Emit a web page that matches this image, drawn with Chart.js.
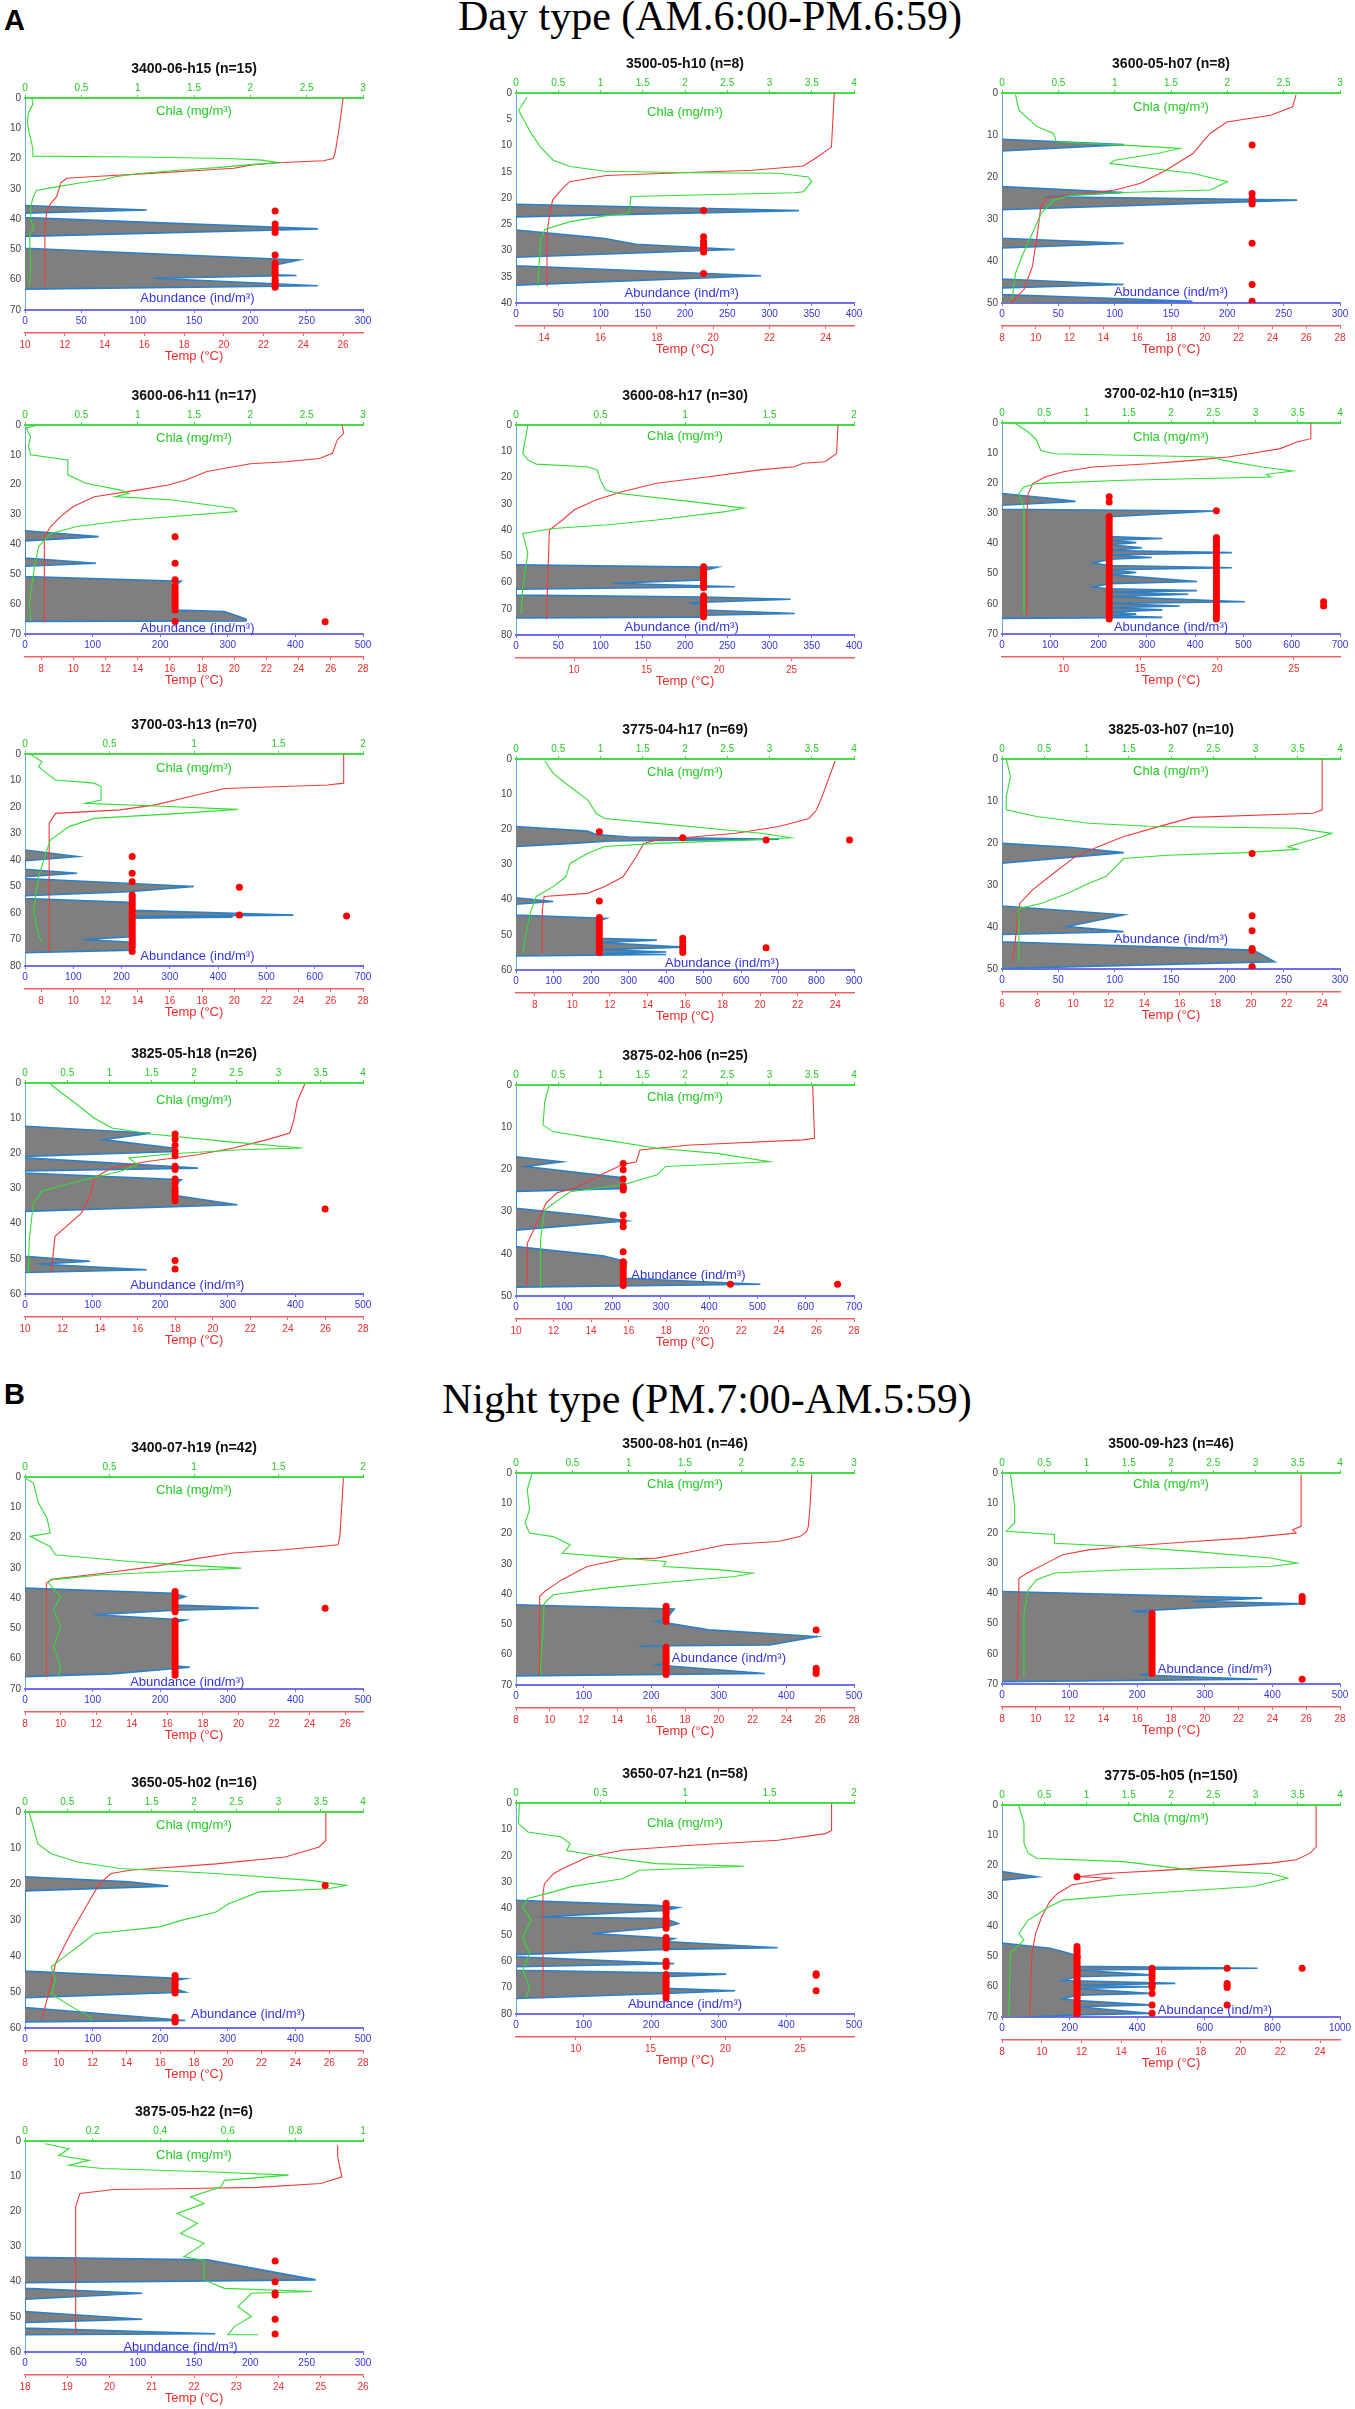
<!DOCTYPE html>
<html>
<head>
<meta charset="utf-8">
<script src="https://cdn.jsdelivr.net/npm/chart.js@4.4.1/dist/chart.umd.min.js"></script>
<style>
  body { margin: 0; background: #fff; }
  #page { position: relative; width: 1355px; height: 2409px; overflow: hidden; background: #fff; }
  .big { position: absolute; font-family: "Liberation Serif", "Times New Roman", serif; font-size: 42px; line-height: 42px; color: #000; white-space: nowrap; }
  .letter { position: absolute; font-family: "Liberation Sans", Arial, sans-serif; font-weight: bold; font-size: 29px; line-height: 29px; color: #000; }
  canvas { position: absolute; }
</style>
</head>
<body>
<div id="page">
  <div class="letter" style="left:4px; top:6px;">A</div>
  <div class="big" style="left:458px; top:-5px;">Day type (AM.6:00-PM.6:59)</div>
  <div class="letter" style="left:4px; top:1380px;">B</div>
  <div class="big" style="left:442px; top:1378px;">Night type (PM.7:00-AM.5:59)</div>
</div>
<script>
// temp / chla profiles: [depth (m), value]
// abundance profiles: [abundance, depth (m)]
// dots: [depth (m), abundance]
// ---- Day type ----
const p1Temp = [[0,26.0],[10,25.8],[18,25.6],[20,25.5],[20.7,25.0],[21.3,23.0],[22,21.5],[23.2,20.5],[24,18.5],[24.9,16.3],[26,13.3],[26.5,12.1],[28,11.8],[32.5,11.6],[34.8,11.3],[37,11.1],[43.6,11.0],[62,11.0]];
const p1Chla = [[0,0.06],[2,0.07],[5,0.03],[8,0.02],[12,0.04],[15,0.06],[17,0.07],[19.2,0.07],[19.5,1.0],[20,1.8],[20.5,2.1],[21.3,2.25],[22,2.0],[23,1.7],[24,1.3],[25,1.0],[26,0.8],[27,0.7],[28,0.5],[29.5,0.25],[30.5,0.1],[33,0.07],[36,0.05],[40,0.05],[43,0.08],[45,0.04],[55,0.05],[62,0.04]];
const p1Abund = [[0,35.5],[108,37],[0,38],[0,39.5],[260,43.2],[0,45.7],[0,49.6],[243,53.5],[222,55.1],[222,58.4],[241,58.6],[114,59.5],[260,62],[0,63.1]];
const p1Dots = [[37.3,222],[41.6,222],[43.2,222],[44.4,222],[51.8,222],[54.5,222],[55.5,222],[56.5,222],[57.5,222],[58.4,222],[59.8,222],[60.6,222],[61.3,222],[62.5,222]];

const p2Temp = [[0,24.3],[10.3,24.2],[12.2,23.7],[13.9,23.2],[14.7,21.4],[15.2,18.9],[15.7,16.2],[16.9,14.9],[18.5,14.6],[20.4,14.3],[22.9,14.2],[26.7,14.1],[36.8,14.1]];
const p2Chla = [[0.8,0.13],[3.3,0.03],[7.7,0.18],[10.3,0.29],[12.8,0.44],[14,0.64],[14.9,1.05],[15.2,2.08],[15.3,3.1],[16,3.46],[16.9,3.5],[18.8,3.4],[19,3.3],[19.7,1.36],[22.9,1.34],[23.4,1.05],[24.5,0.64],[26,0.34],[28,0.29],[36.8,0.26]];
const p2Abund = [[0,21.2],[335,22.4],[0,23.6],[0,26.1],[85,27.4],[105,27.7],[142,28.8],[259,29.8],[0,31.3],[0,32.9],[290,34.8],[0,36.6]];
const p2Dots = [[22.4,222],[27.4,222],[28.3,222],[28.8,222],[29.3,222],[29.8,222],[30.3,222],[34.4,222]];

const p3Temp = [[0.4,25.4],[3.3,25.2],[5.3,23.9],[6.9,21.3],[9.7,20.3],[12,19.8],[14.4,19.3],[18.4,17.7],[21.5,16.2],[23.1,14.7],[24.3,12.1],[25,10.6],[27,10.3],[33.4,10.1],[41.3,9.8],[46.8,9.3],[50,8.5]];
const p3Chla = [[0.4,0.12],[4.1,0.15],[8,0.31],[9.7,0.46],[11.6,0.48],[12.4,1.08],[13.2,1.58],[14.4,1.38],[16,1.0],[16.8,0.96],[19.1,1.69],[21.1,2.0],[23.1,1.85],[23.7,1.08],[24.3,0.62],[25.5,0.46],[28.6,0.35],[33.4,0.27],[38.1,0.19],[42.9,0.12],[49.2,0.09]];
const p3Abund = [[0,11],[108,12.3],[0,13.8],[0,22.3],[108,23.7],[38,24.7],[262,25.5],[0,27.8],[0,34.6],[108,35.8],[0,36.9],[0,44.3],[108,45.6],[0,46.4],[0,48],[169,49.6],[0,50.2]];
const p3Dots = [[12.4,222],[23.9,222],[25.1,222],[25.9,222],[26.4,222],[35.8,222],[45.6,222],[49.6,222]];

const p4Temp = [[0,26.7],[2.8,26.8],[5,26.4],[9.5,26.1],[11.2,25.3],[12.3,23.2],[13,21],[15.6,18.3],[18.4,17],[20.1,15.9],[21.8,14],[24,11.3],[27.3,10],[30.7,9.2],[34,8.6],[37.4,8.2],[66,8.2]];
const p4Chla = [[0,0.12],[1,0.01],[4,0.05],[7,0.03],[10,0.05],[11.7,0.38],[16.7,0.38],[19.5,0.54],[21.8,0.85],[22.9,0.92],[24,0.8],[25.1,1.31],[27.9,1.85],[29,1.88],[31.8,0.92],[34,0.46],[36.3,0.23],[40.7,0.12],[48.5,0.08],[59.7,0.04],[65.5,0.05]];
const p4Abund = [[0,35.4],[109,37.4],[0,38.8],[0,44.6],[105,46.3],[0,47.3],[0,50.8],[231,52.3],[224,53.5],[224,62],[295,62.5],[327,65],[327,65.6],[0,65.8]];
const p4Dots = [[37.4,222],[46.3,222],[51.8,222],[54,222],[55,222],[56,222],[57,222],[58,222],[59,222],[60,222],[61,222],[62,222],[65.8,222],[65.9,444]];

const p5Temp = [[0,28.2],[10.8,28.1],[14,27.3],[14.6,25.8],[15.9,25.2],[17.1,22.8],[19.7,19.3],[22.2,15.7],[25.4,13.3],[28.6,11.5],[32.4,10],[36.2,9.2],[40,8.3],[74,8.1]];
const p5Chla = [[0,0.07],[10.8,0.04],[13.3,0.07],[14.9,0.12],[15.9,0.42],[17.1,0.48],[21,0.5],[24.8,0.53],[26,0.6],[29.2,1.04],[31.7,1.35],[33,1.24],[36.2,0.83],[38.1,0.53],[39.4,0.22],[41.3,0.04],[48.9,0.07],[61.6,0.04],[72,0.03]];
const p5Abund = [[0,53.3],[238,54.2],[222,55.5],[222,59],[115,60.3],[259,61.6],[0,62.6],[0,64.8],[222,65.5],[325,66.4],[205,67.7],[222,68.5],[222,70.5],[330,71.8],[222,72.5],[222,73.2],[0,73.5]];
const p5Dots = [[54,222],[55,222],[56,222],[57,222],[58,222],[59,222],[60,222],[61,222],[62,222],[65,222],[66,222],[67,222],[68,222],[69,222],[70,222],[71,222],[72,222],[73,222]];

const p6Temp = [[0,26.1],[5.2,26.1],[6.3,25.2],[8.5,24.1],[10.2,22.1],[11.3,20.7],[12.4,18.4],[13.5,15.6],[14.6,11.9],[16.2,10],[17.9,8.8],[20.1,8],[23.4,7.7],[32.2,7.6],[64,7.6]];
const p6Chla = [[0,0.15],[3,0.31],[5.7,0.41],[9.1,0.46],[10.2,0.62],[10.7,1.44],[11.3,2.51],[12.4,2.62],[14.6,3.08],[15.9,3.44],[17,3.13],[17.9,3.18],[19,1.44],[20.1,0.41],[21.2,0.26],[23.4,0.2],[27.8,0.26],[43.3,0.26],[63.1,0.26]];
const p6Abund = [[0,23.4],[99,25],[152,26],[0,27.3],[0,28.6],[440,29.2],[224,31.1],[222,37.7],[332,38.3],[222,38.9],[278,39.7],[222,40.4],[290,41.4],[222,42.3],[476,43],[222,43.8],[310,44.6],[222,45.2],[188,46.5],[222,47.3],[476,48],[222,48.7],[278,49.6],[222,50.3],[404,52.6],[222,53.3],[188,54.5],[222,55],[404,55.6],[222,56.2],[386,56.8],[222,57.6],[503,59.3],[222,59.9],[368,60.7],[222,61.3],[332,62],[222,62.7],[278,63.4],[222,63.9],[332,64.5],[0,64.8]];
const p6Dots = [[24.5,222],[26.2,222],[31,222],[32,222],[33,222],[34,222],[35,222],[36,222],[37,222],[38,222],[39,222],[40,222],[41,222],[42,222],[43,222],[44,222],[45,222],[46,222],[47,222],[48,222],[49,222],[50,222],[51,222],[52,222],[53,222],[54,222],[55,222],[56,222],[57,222],[58,222],[59,222],[60,222],[61,222],[62,222],[63,222],[64,222],[65,222],
  [29.1,444],[38,444],[39,444],[40,444],[41,444],[42,444],[43,444],[44,444],[45,444],[46,444],[47,444],[48,444],[49,444],[50,444],[51,444],[52,444],[53,444],[54,444],[55,444],[56,444],[57,444],[58,444],[59,444],[60,444],[61,444],[62,444],[63,444],[64,444],[65,444],[59.3,666],[60.7,666]];

const p7Temp = [[0,26.8],[11,26.8],[11.7,25.8],[13,19.4],[16.1,17.2],[19.2,15.1],[21.1,12.9],[22.4,8.9],[26.2,8.5],[74.6,8.5]];
const p7Chla = [[0,0.03],[2.9,0.1],[4.8,0.08],[7.3,0.13],[9.8,0.18],[11,0.41],[12.3,0.45],[17.4,0.45],[18.6,0.36],[19.6,0.77],[20.9,1.26],[22.4,0.92],[24.3,0.41],[27.4,0.26],[32.5,0.15],[36.2,0.13],[46.3,0.08],[58.9,0.05],[68.3,0.08],[70.8,0.1]];
const p7Abund = [[0,36.2],[108,38.7],[0,40.3],[0,43.5],[108,45],[0,46.3],[0,47],[350,50],[215,52],[0,53.5],[0,54.5],[215,56],[222,59],[556,60.8],[222,61.3],[430,61.6],[222,62],[222,69],[120,70],[222,71],[222,74],[0,75]];
const p7Dots = [[38.7,222],[45,222],[48.2,222],[53.2,222],[54,222],[55,222],[56,222],[57,222],[58,222],[59,222],[60,222],[61,222],[62,222],[63,222],[64,222],[65,222],[66,222],[67,222],[68,222],[69,222],[70,222],[71,222],[72,222],[73,222],[74.5,222],[50.3,444],[60.8,444],[61.1,666]];

const p8Temp = [[0.5,24],[10.7,23.3],[14.5,23],[16.9,22.6],[19.2,21],[21.1,18.7],[22.4,15.9],[23,14.5],[24,13.8],[27.8,13.4],[33.5,12.7],[36.3,11.7],[38.2,10.8],[39.1,8.5],[42.9,8.4],[55.4,8.4]];
const p8Chla = [[0.5,0.34],[4.1,0.44],[7.9,0.64],[11.7,0.85],[15.5,0.95],[16.9,1.05],[18.3,1.67],[20.2,2.49],[21.1,2.9],[22.4,3.25],[23,2.79],[24,1.67],[24.9,1.05],[26.8,0.85],[29.7,0.64],[33.5,0.59],[36.3,0.44],[39.1,0.24],[42.9,0.18],[48.2,0.13],[55.3,0.08]];
const p8Abund = [[0,19.2],[190,20.5],[214,21.5],[300,22.2],[700,22.8],[250,23.3],[150,24],[0,24.9],[0,39.5],[99,40.5],[0,41.3],[0,44.4],[240,45.3],[222,46],[222,51],[375,51.5],[222,52.2],[445,53.5],[222,54.2],[400,54.9],[222,55.3],[400,55.6],[0,56]];
const p8Dots = [[20.7,222],[40.4,222],[45.1,222],[46,222],[47,222],[48,222],[49,222],[50,222],[51,222],[52,222],[53,222],[54,222],[55,222],[22.4,444],[51,444],[52,444],[53,444],[54,444],[55,444],[23,666],[53.7,666],[23,888]];

const p9Temp = [[0,24],[12.1,24],[12.9,23.5],[13.9,16.7],[16.1,14.8],[18.5,12.8],[20.9,11.4],[23.3,10.1],[27.2,8.9],[31.2,7.7],[34.4,7],[48.3,6.6]];
const p9Chla = [[0,0.05],[4.2,0.1],[9,0.05],[12.1,0.05],[13.7,0.41],[15.3,1.03],[16,1.74],[16.5,3.49],[17.7,3.9],[18.5,3.79],[20.9,3.38],[21.5,3.49],[22.3,2.87],[22.9,1.95],[23.7,1.44],[28,1.23],[29.6,1.03],[32,0.77],[34.4,0.46],[35.6,0.2],[48.3,0.2]];
const p9Abund = [[0,20.1],[60,21],[108,22.3],[0,24.8],[0,35],[108,37.1],[58,39.9],[108,41.1],[0,41.8],[0,43.5],[223,45.5],[242,48.3],[0,49.9]];
const p9Dots = [[22.5,222],[37.3,222],[40.9,222],[45.1,222],[45.6,222],[49.4,222],[49.8,222]];

const p10Temp = [[0.3,24.9],[5.2,24.5],[10.9,24.3],[14.2,24.1],[16.1,22.9],[18.5,21.1],[20.4,19.2],[22.3,16.5],[24.2,14.6],[27,13.7],[31.8,13.5],[37,13],[43.6,11.6],[53.6,11.4]];
const p10Chla = [[0.3,0.3],[2.4,0.41],[6.2,0.62],[10,0.82],[12.8,1.03],[14.5,1.49],[16.6,2.36],[18.5,3.28],[19,2.56],[20.1,1.74],[21.3,1.23],[23.2,1.33],[25.1,1.13],[28,0.62],[30.8,0.2],[34.1,0.1],[44.5,0.05],[53.9,0.04]];
const p10Abund = [[0,12.3],[186,14.3],[115,16.1],[218,18.5],[222,19.5],[0,20.9],[0,21.3],[256,24.2],[0,25],[0,25.6],[231,27.5],[222,29],[222,32],[314,34.6],[0,36.5],[0,49.3],[96,50.7],[20,51.5],[180,53.1],[0,53.9]];
const p10Dots = [[14.5,222],[16,222],[17.7,222],[19.4,222],[20.7,222],[23.7,222],[24.6,222],[27.3,222],[28.5,222],[29.9,222],[30.8,222],[31.6,222],[32.4,222],[33.5,222],[50.5,222],[52.9,222],[35.8,444]];

const p11Temp = [[0.2,25.8],[12.6,25.9],[13,25.3],[14.2,19.3],[15.4,16.6],[18.2,16.4],[18.8,15.7],[20.9,14.7],[22.9,13.8],[24.5,13.1],[25.5,12.2],[28,11.6],[32.8,11.1],[37.5,10.6],[47.8,10.6]];
const p11Chla = [[0.2,0.39],[4,0.34],[9.5,0.32],[11.1,0.44],[13,1.05],[15,1.67],[16.2,2.38],[18.2,3.0],[19.3,1.77],[21.3,1.67],[23.7,1.26],[25.3,0.64],[29.6,0.34],[36.7,0.29],[47.8,0.29]];
const p11Abund = [[0,17],[95,18.2],[20,19.3],[222,22],[229,24.5],[0,25.2],[0,29.2],[150,31],[229,32.2],[0,34.4],[0,38.3],[180,40.5],[229,41.9],[222,45.8],[506,47.2],[0,47.9]];
const p11Dots = [[18.6,222],[20.1,222],[22.3,222],[24.1,222],[24.9,222],[30.8,222],[32.4,222],[33.6,222],[39.5,222],[41.9,222],[42.6,222],[43.3,222],[44,222],[44.7,222],[45.4,222],[46.1,222],[46.8,222],[47.5,222],[47.2,444],[47.2,666]];

// ---- Night type ----
const n1Temp = [[0.3,25.9],[19.6,25.7],[22.4,25.6],[24,22.6],[25.1,19.7],[26.8,17.8],[29.5,15.3],[31.8,12.4],[33.8,9.5],[35.1,9.2],[66,9.2]];
const n1Chla = [[0.3,0.0],[2,0.05],[8.6,0.08],[13.6,0.13],[18.5,0.15],[19.6,0.03],[23,0.15],[25.7,0.18],[27.9,0.62],[29,0.92],[30.1,1.28],[31.2,0.87],[32.3,0.46],[33.4,0.26],[34,0.15],[35,0.14],[39.5,0.21],[43.9,0.17],[49.4,0.21],[56,0.17],[62.6,0.21],[65.9,0.2]];
const n1Abund = [[0,36.7],[218,38.4],[237,39.5],[222,40.6],[225,42.3],[346,43.3],[222,44],[103,45.5],[237,47.2],[222,48],[222,62.3],[244,62.8],[128,65],[0,65.9]];
const n1Dots = [[37.8,222],[38.6,222],[39.5,222],[40.5,222],[41.5,222],[42.5,222],[43.5,222],[44.5,222],[47.5,222],[48.5,222],[49.5,222],[50.5,222],[51.5,222],[52.5,222],[53.5,222],[54.5,222],[55.5,222],[56.5,222],[57.5,222],[58.5,222],[59.5,222],[60.5,222],[61.5,222],[62.5,222],[63.5,222],[64.5,222],[65.5,222],[43.3,444]];

const n2Temp = [[0.5,25.5],[11,25.4],[17.6,25.3],[19.3,25.2],[21,24.8],[22.6,23.5],[23.7,20.4],[26.5,17.9],[28.1,16.3],[28.4,14.3],[30.9,12.2],[35.3,10.7],[39.1,9.7],[40.8,9.4],[66.7,9.4]];
const n2Chla = [[0.5,0.14],[5.5,0.1],[12.1,0.12],[16.5,0.08],[19.8,0.12],[21,0.33],[23.7,0.48],[26.5,0.41],[27.6,0.79],[29.2,1.33],[30.9,1.31],[31.9,1.79],[33.1,2.1],[34.2,1.94],[36.4,1.25],[38,0.79],[40.2,0.33],[43,0.25],[51.8,0.24],[62.8,0.22],[66.7,0.22]];
const n2Abund = [[0,43.5],[234,44.9],[221,48.5],[208,49],[285,51.8],[445,54],[375,56.8],[183,57.1],[221,57.3],[221,62.8],[208,63.4],[368,66.2],[0,67]];
const n2Dots = [[44,222],[45,222],[46,222],[47,222],[48,222],[49,222],[57.5,222],[58.5,222],[59.5,222],[60.5,222],[61.5,222],[62.5,222],[63.5,222],[64.5,222],[65.5,222],[66.5,222],[51.8,444],[64.5,444],[65.3,444],[66.2,444]];

const n3Temp = [[0.5,25.7],[17.7,25.7],[18.8,25.2],[19.9,25.4],[21.6,22.4],[22.7,19.3],[24.4,15.2],[25.5,13.1],[27.1,11.6],[29.4,10.8],[33.2,9.5],[34.9,9],[68.7,8.9]];
const n3Chla = [[0.5,0.1],[11,0.15],[16.5,0.15],[19.3,0.05],[20.4,0.62],[23.3,0.62],[24.4,1.44],[26,2.26],[28.2,3.18],[29.9,3.49],[31,3.18],[32.1,1.44],[33.2,0.62],[35.4,0.41],[38.8,0.31],[46.5,0.26],[67.6,0.26]];
const n3Abund = [[0,39.3],[385,41.5],[282,42.6],[449,43.4],[282,44.8],[192,45.9],[224,46.3],[224,66.4],[205,67],[378,68.4],[0,69.2]];
const n3Dots = [[46.5,222],[47.5,222],[48.5,222],[49.5,222],[50.5,222],[51.5,222],[52.5,222],[53.5,222],[54.5,222],[55.5,222],[56.5,222],[57.5,222],[58.5,222],[59.5,222],[60.5,222],[61.5,222],[62.5,222],[63.5,222],[64.5,222],[65.5,222],[66.5,222],[41,444],[41.8,444],[42.6,444],[68.4,444]];

const n4Temp = [[0.3,25.8],[2.3,25.8],[7.9,25.8],[9.7,25.4],[12.5,23.4],[14.4,19.3],[16.2,14.2],[17.1,13.1],[19.9,12.4],[26.4,11.6],[32.9,10.8],[37.5,10.3],[42.1,9.8],[48.6,9.5],[57.4,9]];
const n4Chla = [[0.3,0.05],[4.2,0.1],[8.8,0.15],[11.6,0.31],[13.9,0.62],[15.7,1.13],[17.1,2.26],[19,3.38],[20.4,3.8],[21.3,3.59],[22.2,2.77],[25.5,2.41],[27.8,2.26],[30.1,1.85],[31.9,1.59],[33.8,0.82],[36.6,0.67],[40.3,0.46],[43,0.31],[46.8,0.36],[50.5,0.31],[54.2,0.56],[56.9,0.77],[57.9,0.79]];
const n4Abund = [[0,18],[154,19.4],[212,20.6],[0,21.9],[0,44.2],[237,46.3],[222,46.8],[222,49.1],[237,50],[0,51.6],[0,54.3],[237,57.9],[0,58.3]];
const n4Dots = [[45.4,222],[46.1,222],[46.8,222],[47.5,222],[48.2,222],[48.9,222],[49.6,222],[50.3,222],[57,222],[57.7,222],[58.3,222],[20.4,444]];

const n5Temp = [[0.3,27.1],[10.4,27.1],[11.6,26.7],[14.1,23.5],[16,17.7],[17.9,13.1],[20.5,10.8],[24.9,9.1],[26.8,8.5],[30.6,7.9],[34.3,7.8],[74.1,7.8]];
const n5Chla = [[0.3,0.02],[7.8,0.015],[11,0.07],[12.9,0.27],[15.4,0.32],[18,0.3],[20.5,0.53],[23,0.83],[24,1.35],[25.5,0.73],[28.7,0.63],[31.8,0.32],[33.7,0.22],[36.2,0.07],[39.4,0.04],[44.4,0.09],[50.8,0.04],[57.1,0.08],[63.4,0.04],[69.7,0.08],[74.1,0.06]];
const n5Abund = [[0,36.9],[208,38.8],[240,39.6],[221,40.7],[36,43.2],[221,43.8],[240,45.7],[221,47],[113,49.5],[234,51.4],[221,52.5],[387,54.9],[221,55.5],[0,57.5],[0,58.3],[234,60.9],[0,62.1],[0,63.4],[221,64.4],[311,64.9],[221,65.9],[221,70.3],[324,71.2],[221,72.2],[0,74.1]];
const n5Dots = [[38,222],[39,222],[40,222],[41,222],[42,222],[43.5,222],[44.5,222],[45.5,222],[46.5,222],[47.5,222],[51,222],[52,222],[53,222],[54,222],[55,222],[60,222],[61,222],[62,222],[65,222],[66,222],[67,222],[68,222],[69,222],[70,222],[71,222],[72,222],[73,222],[74,222],[64.7,444],[65.3,444],[71.2,444]];

const n6Temp = [[0.3,23.8],[13.8,23.8],[15.9,23.5],[18.1,22.8],[19.2,21.5],[21.5,16.3],[22.6,13.2],[23.7,11.9],[24.2,13.5],[26.4,11.5],[29.2,10.8],[31.9,10.4],[36.9,10],[42.3,9.7],[48.9,9.5],[69.9,9.4]];
const n6Chla = [[0.3,0.2],[6,0.26],[12.6,0.26],[15.9,0.31],[17.6,0.41],[18.7,1.44],[21.5,2.26],[22.6,3.18],[24.2,3.38],[26.9,2.97],[29.7,1.44],[31.4,0.72],[33.6,0.56],[38,0.31],[42.4,0.2],[44.6,0.26],[48.9,0.1],[69.9,0.08]];
const n6Abund = [[0,22],[103,23.7],[0,24.8],[0,45.6],[141,47.3],[179,48.4],[231,50],[222,53.3],[756,53.9],[222,54.5],[436,56.1],[222,56.7],[178,58],[513,58.9],[222,59.5],[436,60],[222,60.6],[436,62.2],[222,62.8],[180,64],[222,64.6],[436,66],[222,66.6],[436,68.8],[222,69.3],[0,70.4]];
const n6Dots = [[23.7,222],[46.7,222],[47.5,222],[48.3,222],[49.1,222],[49.9,222],[50.7,222],[51.5,222],[52.3,222],[53.1,222],[53.9,222],[54.7,222],[55.5,222],[56.3,222],[57.1,222],[57.9,222],[58.7,222],[59.5,222],[60.3,222],[61.1,222],[61.9,222],[62.7,222],[63.5,222],[64.3,222],[65.1,222],[65.9,222],[66.7,222],[67.5,222],[68.3,222],[69.1,222],[69.9,222],
  [53.9,444],[55,444],[56.1,444],[57.2,444],[58.9,444],[59.6,444],[60.3,444],[62.2,444],[66,444],[68.8,444],[53.9,666],[58.9,666],[59.6,666],[60.3,666],[66,666],[53.9,888]];

const n7Temp = [[1.2,25.4],[4.5,25.4],[10.2,25.5],[12.1,25],[13.2,23.5],[13.5,21.9],[13.8,20.1],[14.9,19.3],[18.7,19.2],[54.6,19.2]];
const n7Chla = [[0.8,0.06],[2.2,0.13],[4.1,0.1],[5.5,0.19],[6.9,0.13],[7.8,0.23],[8.8,0.56],[9.7,0.78],[11.2,0.59],[13,0.58],[15.9,0.49],[17.8,0.53],[20.6,0.45],[23.4,0.51],[26.3,0.46],[29.1,0.53],[32.9,0.47],[34,0.53],[39.5,0.53],[41.9,0.59],[42.8,0.85],[43.3,0.67],[47.1,0.63],[49.9,0.67],[52.7,0.62],[55.1,0.6],[55.1,0.69]];
const n7Abund = [[0,33.1],[162,33.8],[258,39.5],[0,40.3],[0,41.9],[104,43.3],[0,45],[0,48.5],[104,50.7],[0,51.6],[0,53.2],[169,54.8],[0,55.1]];
const n7Dots = [[34.1,222],[40,222],[43.2,222],[43.8,222],[50.7,222],[54.9,222]];

// panel titles and axis ranges
const titles = ["3400-06-h15 (n=15)","3500-05-h10 (n=8)","3600-05-h07 (n=8)","3600-06-h11 (n=17)","3600-08-h17 (n=30)","3700-02-h10 (n=315)",
  "3700-03-h13 (n=70)","3775-04-h17 (n=69)","3825-03-h07 (n=10)","3825-05-h18 (n=26)","3875-02-h06 (n=25)",
  "3400-07-h19 (n=42)","3500-08-h01 (n=46)","3500-09-h23 (n=46)","3650-05-h02 (n=16)","3650-07-h21 (n=58)","3775-05-h05 (n=150)","3875-05-h22 (n=6)"];
const depthMax = [70,40,50,70,80,70,80,60,50,60,50,70,70,70,60,80,70,60];
const depthStep = [10,5,10,10,10,10,10,10,10,10,10,10,10,10,10,10,10,10];
const chlaMax = [3,4,3,3,2,4,2,4,4,4,4,2,3,4,4,2,4,1];
const chlaStep = [0.5,0.5,0.5,0.5,0.5,0.5,0.5,0.5,0.5,0.5,0.5,0.5,0.5,0.5,0.5,0.5,0.5,0.2];
const abundMax = [300,400,300,500,400,700,700,900,300,500,700,500,500,500,500,500,1000,300];
const abundStep = [50,50,50,100,50,100,100,100,50,100,100,100,100,100,100,100,200,50];
const tempMin = [10,13,8,7,6,6,7,7,6,10,10,8,8,8,8,6,8,18];
const tempMax = [27,25,28,28,29.3,28,28,25,25,28,28,27,28,28,28,28.6,25,26];
const tempStep = [2,2,2,2,5,5,2,2,2,2,2,2,2,2,2,5,2,1];

const temps = [p1Temp,p2Temp,p3Temp,p4Temp,p5Temp,p6Temp,p7Temp,p8Temp,p9Temp,p10Temp,p11Temp,n1Temp,n2Temp,n3Temp,n4Temp,n5Temp,n6Temp,n7Temp];
const chlas = [p1Chla,p2Chla,p3Chla,p4Chla,p5Chla,p6Chla,p7Chla,p8Chla,p9Chla,p10Chla,p11Chla,n1Chla,n2Chla,n3Chla,n4Chla,n5Chla,n6Chla,n7Chla];
const abunds = [p1Abund,p2Abund,p3Abund,p4Abund,p5Abund,p6Abund,p7Abund,p8Abund,p9Abund,p10Abund,p11Abund,n1Abund,n2Abund,n3Abund,n4Abund,n5Abund,n6Abund,n7Abund];
const dots = [p1Dots,p2Dots,p3Dots,p4Dots,p5Dots,p6Dots,p7Dots,p8Dots,p9Dots,p10Dots,p11Dots,n1Dots,n2Dots,n3Dots,n4Dots,n5Dots,n6Dots,n7Dots];

// placement: plot-area left x, top y, bottom y (px), and label offsets
const plotLeft = [25,516,1002,25,516,1002,25,516,1002,25,516,25,516,1002,25,516,1002,25];
const plotTop = [98,93,93,425,425,423,754,759,759,1083,1085,1477,1473,1473,1812,1803,1805,2141];
const plotBottom = [310,303,303,634,635,634,966,970,969,1294,1296,1689,1685,1684,2028,2014,2017,2352];
const chlaLabelY = [13,19,14,13,11,14,14,13,12,17,12,13,11,11,13,20,13,14];
const abLabelX = [0.51,0.49,0.5,0.51,0.49,0.5,0.51,0.61,0.5,0.48,0.51,0.48,0.63,0.63,0.66,0.5,0.63,0.46];
const abLabelY = [-12,-10,-11,-6,-8,-7,-10,-7,-30,-9,-21,-7,-27,-15,-14,-10,-7,-5];

const PLOT_W = 338;
const GREEN = "#22cc22", BLUE = "#3333dd", RED = "#ee2b2b";
const SANS = '"Liberation Sans", Arial, sans-serif';
Chart.defaults.font.family = SANS;

function profilePts(arr) { return arr.map(([d, v]) => ({ x: v, y: d })); }
function abundPts(arr) { return arr.map(([a, d]) => ({ x: a, y: d })); }

// ticks on multiples of the step, inside [min, max]
function stepTicks(scale, step) {
    const out = [];
    const first = Math.ceil(scale.min / step - 1e-9) * step;
    for (let v = first; v <= scale.max + 1e-9; v += step) out.push({ value: Math.round(v * 100) / 100 });
    scale.ticks = out;
}

const panelText = {
    id: "panelText",
    afterDraw(chart, args, opts) {
        const { ctx, chartArea: a } = chart;
        const w = a.right - a.left;
        ctx.save();
        ctx.textAlign = "center";
        ctx.textBaseline = "middle";
        ctx.font = "bold 14px " + SANS;
        ctx.fillStyle = "#111";
        ctx.fillText(opts.title, a.left + w / 2, a.top - 29);
        ctx.font = "13px " + SANS;
        ctx.fillStyle = GREEN;
        ctx.fillText("Chla (mg/m³)", a.left + w / 2, a.top + opts.chlaY);
        ctx.fillStyle = BLUE;
        ctx.fillText("Abundance (ind/m³)", a.left + w * opts.abX, a.bottom + opts.abY);
        ctx.restore();
    }
};

const page = document.getElementById("page");

titles.forEach((title, i) => {
    const plotH = plotBottom[i] - plotTop[i];
    const W = 25 + PLOT_W + 16;
    const H = 45 + plotH + 60;
    const c = document.createElement("canvas");
    c.width = W; c.height = H;
    c.style.width = W + "px"; c.style.height = H + "px";
    c.style.left = (plotLeft[i] - 25) + "px";
    c.style.top = (plotTop[i] - 45) + "px";
    page.appendChild(c);

    new Chart(c, {
        type: "line",
        data: {
            datasets: [
                {
                    label: "dots", data: profilePts(dots[i]), xAxisID: "xAb", yAxisID: "y",
                    showLine: false, pointRadius: 3.5, pointBackgroundColor: "#ff0000",
                    pointBorderWidth: 0, borderColor: "#ff0000"
                },
                {
                    label: "chla", data: profilePts(chlas[i]), xAxisID: "xChla", yAxisID: "y",
                    borderColor: "#33dd33", borderWidth: 1.1, pointRadius: 0, fill: false
                },
                {
                    label: "temp", data: profilePts(temps[i]), xAxisID: "xT", yAxisID: "y",
                    borderColor: "#f03a3a", borderWidth: 1.1, pointRadius: 0, fill: false
                },
                {
                    label: "abund", data: abundPts(abunds[i]), xAxisID: "xAb", yAxisID: "y",
                    borderColor: "#2d7fc6", borderWidth: 1.6, pointRadius: 0,
                    backgroundColor: "#7f7f7f", fill: "origin"
                }
            ]
        },
        options: {
            responsive: false,
            animation: false,
            indexAxis: "y",
            layout: { padding: { left: 0, top: 0, right: 16, bottom: 6 } },
            plugins: {
                legend: { display: false },
                tooltip: { enabled: false },
                panelText: { title, chlaY: chlaLabelY[i], abX: abLabelX[i], abY: abLabelY[i] }
            },
            scales: {
                y: {
                    type: "linear", position: "left", reverse: true, min: 0, max: depthMax[i],
                    ticks: { stepSize: depthStep[i], color: "#444", font: { size: 10 }, padding: 4, includeBounds: false },
                    grid: { display: false, drawTicks: false },
                    border: { display: true, color: "#62a8e0", width: 1 },
                    afterBuildTicks(s) { stepTicks(s, depthStep[i]); },
                    afterFit(s) { s.width = 25; }
                },
                xChla: {
                    type: "linear", position: "top", min: 0, max: chlaMax[i],
                    ticks: { stepSize: chlaStep[i], color: GREEN, font: { size: 10 }, padding: 1, maxRotation: 0, autoSkip: false, includeBounds: false, callback: v => String(Math.round(v * 10) / 10) },
                    grid: { display: true, drawOnChartArea: false, drawTicks: true, tickLength: 3, color: "#44dd44" },
                    border: { display: true, color: "#44dd44", width: 2 },
                    afterBuildTicks(s) { stepTicks(s, chlaStep[i]); },
                    afterFit(s) { s.height = 45; }
                },
                xAb: {
                    type: "linear", position: "bottom", weight: 0, min: 0, max: abundMax[i],
                    ticks: { stepSize: abundStep[i], color: BLUE, font: { size: 10 }, padding: 2, maxRotation: 0, autoSkip: false, includeBounds: false, callback: v => String(v) },
                    grid: { display: true, drawOnChartArea: false, drawTicks: true, tickLength: 3, color: "#6f6ff0" },
                    border: { display: true, color: "#6f6ff0", width: 2 },
                    afterBuildTicks(s) { stepTicks(s, abundStep[i]); },
                    afterFit(s) { s.height = 23; }
                },
                xT: {
                    type: "linear", position: "bottom", weight: 1, min: tempMin[i], max: tempMax[i],
                    ticks: { stepSize: tempStep[i], color: RED, font: { size: 10 }, padding: 3, maxRotation: 0, autoSkip: false, includeBounds: false, callback: v => String(v) },
                    grid: { display: true, drawOnChartArea: false, drawTicks: true, tickLength: 3, color: "#f06060" },
                    border: { display: true, color: "#f06060", width: 1.5 },
                    title: { display: true, text: "Temp (°C)", color: RED, font: { size: 13 }, padding: 0 },
                    afterBuildTicks(s) { stepTicks(s, tempStep[i]); },
                    afterFit(s) { s.height = 31; }
                }
            }
        },
        plugins: [panelText]
    });
});
</script>
</body>
</html>
